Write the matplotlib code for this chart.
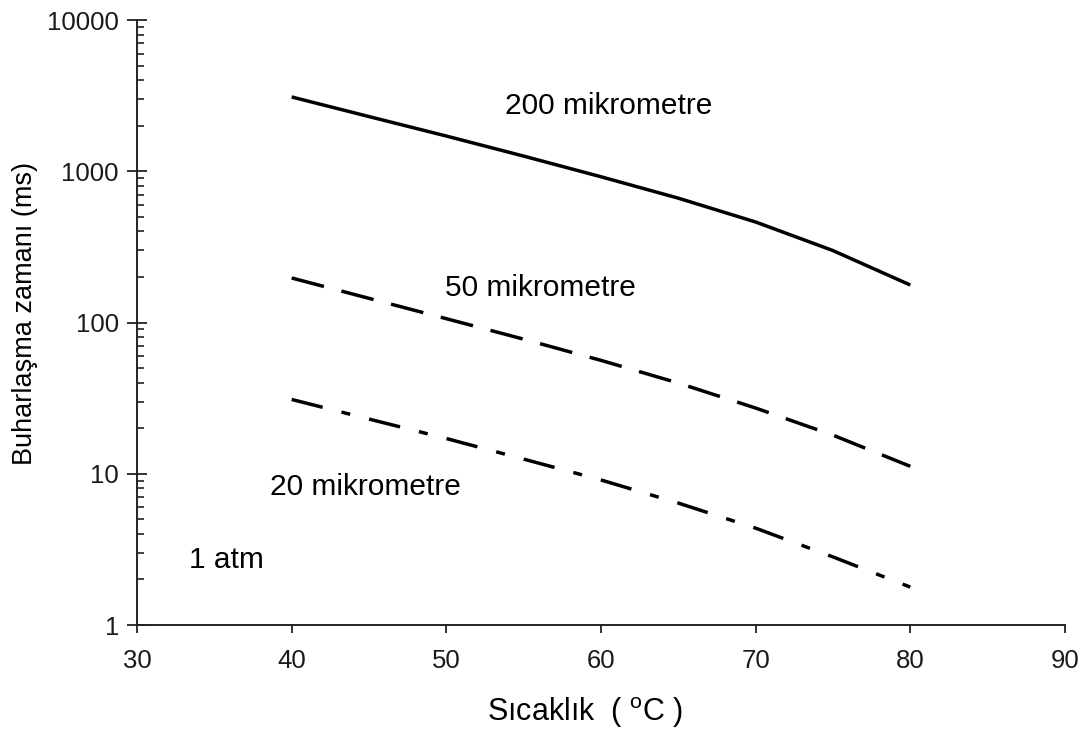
import matplotlib
matplotlib.use("Agg")
import matplotlib.pyplot as plt
from matplotlib.ticker import LogLocator, FixedLocator, NullFormatter

plt.rcParams['font.family'] = ['Liberation Sans', 'DejaVu Sans']
plt.rcParams['lines.scale_dashes'] = False

temps = [40, 45, 50, 55, 60, 65, 70, 75, 80]
t200 = [3100, 2300, 1710, 1260, 920, 664, 462, 299, 177]
t50 = [197, 144.5, 106, 77.6, 56.2, 39.8, 27.2, 18.0, 11.2]
t20 = [31, 23, 17.1, 12.5, 9.1, 6.4, 4.37, 2.82, 1.78]

xticks = [30, 40, 50, 60, 70, 80, 90]
yticks = [1, 10, 100, 1000, 10000]
ytick_labels = ["1", "10", "100", "1000", "10000"]

fig = plt.figure(figsize=(10.9, 7.31), dpi=100)
ax = fig.add_axes([0.1257, 0.145, 0.8513, 0.8276])

ax.plot(temps, t200, color='black', lw=2.5, solid_capstyle='butt')
ax.plot(temps, t50, color='black', lw=2.5, dashes=(24, 13), dash_capstyle='butt')
ax.plot(temps, t20, color='black', lw=2.5, dashes=(23, 14, 6.5, 14), dash_capstyle='butt')

ax.set_yscale('log')
ax.set_xlim(30, 90)
ax.set_ylim(1, 10000)
ax.set_xticks(xticks)
ax.set_xticklabels([str(v) for v in xticks])
ax.yaxis.set_major_locator(FixedLocator(yticks))
ax.set_yticklabels(ytick_labels)
ax.yaxis.set_minor_locator(LogLocator(base=10, subs=range(2, 10)))
ax.yaxis.set_minor_formatter(NullFormatter())

for s in ['top', 'right']:
    ax.spines[s].set_visible(False)
for s in ['left', 'bottom']:
    ax.spines[s].set_linewidth(1.4)
    ax.spines[s].set_color('#222222')

ax.tick_params(axis='y', which='major', direction='inout', length=14, width=1.3,
               labelsize=18.5, pad=6, colors='#222222')
ax.tick_params(axis='y', which='minor', direction='in', length=5, width=1.2, colors='#222222')
ax.tick_params(axis='x', which='major', direction='out', length=6, width=1.3,
               labelsize=18.5, pad=11, colors='#222222')
for lbl in ax.get_xticklabels() + ax.get_yticklabels():
    lbl.set_color('#1a1a1a')

ax.set_xlabel("Sıcaklık  ( $^{\\mathregular{o}}$C )", fontsize=22)
ax.xaxis.set_label_coords(0.483, -0.116)
ax.set_ylabel("Buharlaşma zamanı (ms)", fontsize=19.5)
ax.yaxis.set_label_coords(-0.107, 0.515)

ax.text(60.5, 2700, "200 mikrometre", fontsize=21.5, ha='center', va='center')
ax.text(56.1, 170, "50 mikrometre", fontsize=21.5, ha='center', va='center')
ax.text(44.8, 8.2, "20 mikrometre", fontsize=21.5, ha='center', va='center')
ax.text(35.8, 2.7, "1 atm", fontsize=21.5, ha='center', va='center')

fig.savefig("out.png", dpi=100)
